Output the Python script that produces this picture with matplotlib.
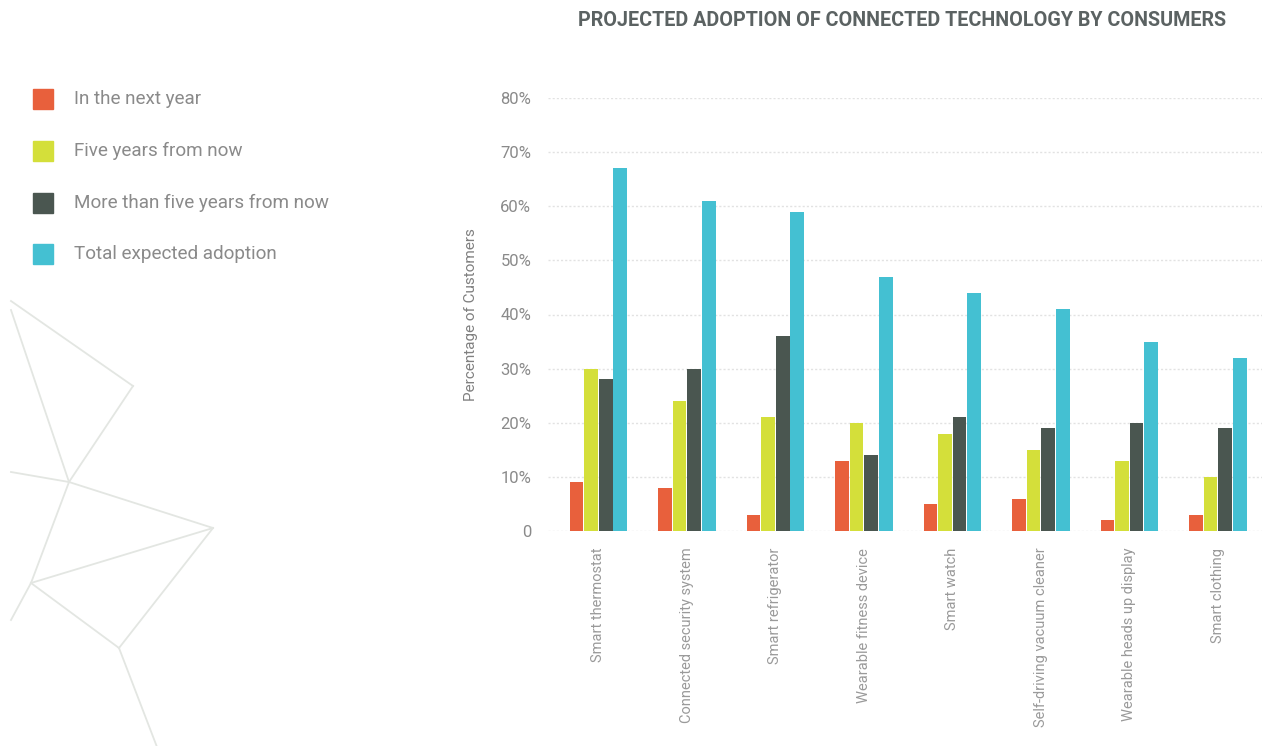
import numpy as np
import matplotlib
matplotlib.use("Agg")
import matplotlib.pyplot as plt
from matplotlib.lines import Line2D
from matplotlib.patches import Rectangle

plt.rcParams["font.family"] = ["Roboto", "DejaVu Sans"]

categories = [
    "Smart thermostat",
    "Connected security system",
    "Smart refrigerator",
    "Wearable fitness device",
    "Smart watch",
    "Self-driving vacuum cleaner",
    "Wearable heads up display",
    "Smart clothing",
]
next_year = [9, 8, 3, 13, 5, 6, 2, 3]
five_years = [30, 24, 21, 20, 18, 15, 13, 10]
beyond_five = [28, 30, 36, 14, 21, 19, 20, 19]
total = [67, 61, 59, 47, 44, 41, 35, 32]

series_labels = [
    "In the next year",
    "Five years from now",
    "More than five years from now",
    "Total expected adoption",
]
colors = ["#e8603c", "#d4df3a", "#4a5650", "#44c0d2"]
y_ticks = [0, 10, 20, 30, 40, 50, 60, 70, 80]

W, H = 1263, 746
fig = plt.figure(figsize=(W / 100, H / 100), dpi=100)

# background decoration: thin light polyline star on the left
pts = {
    "A": (11, 301), "B": (133, 386), "C": (69, 482), "D": (11, 310),
    "E": (11, 472), "F": (213, 528), "G": (31, 583), "H": (119, 648),
    "I": (11, 620), "J": (157, 747),
}
segs = ["AB", "BC", "DC", "EC", "CF", "CG", "GF", "GH", "FH", "HJ", "GI"]
for s in segs:
    (x0, y0), (x1, y1) = pts[s[0]], pts[s[1]]
    fig.add_artist(Line2D([x0 / W, x1 / W], [1 - y0 / H, 1 - y1 / H],
                          transform=fig.transFigure, color="#e3e6e2", lw=1.3))

ax = fig.add_axes([548 / W, 1 - 531 / H, (1262 - 548) / W, (531 - 98) / H])

x = np.arange(len(categories))
bw = 0.155
step = 0.165
for i, (vals, c) in enumerate(zip([next_year, five_years, beyond_five, total], colors)):
    ax.bar(x + (i - 1.5) * step, vals, width=bw, color=c, zorder=3)

ax.set_xlim(-0.57, len(categories) - 0.5)
ax.set_ylim(0, 80)
ax.set_yticks(y_ticks)
ax.set_yticklabels([f"{v}%" if v else "0" for v in y_ticks])
ax.yaxis.grid(True, color="#e2e2e2", linestyle=(0, (1.5, 1.5)), lw=1, zorder=0)
ax.set_xticks(x)
ax.set_xticklabels(categories, rotation=90, va="top", ha="center")
for sp in ax.spines.values():
    sp.set_visible(False)
ax.tick_params(axis="y", length=0, pad=12, labelsize=12, labelcolor="#8a8a8a")
ax.tick_params(axis="x", length=0, pad=12, labelsize=10.5, labelcolor="#9a9a9a")
ax.set_ylabel("Percentage of Customers", fontsize=11, color="#808080", labelpad=16)

fig.text(902 / W, 1 - 21 / H, "PROJECTED ADOPTION OF CONNECTED TECHNOLOGY BY CONSUMERS",
         ha="center", va="center", fontsize=14.2, fontweight="bold", color="#5b6262")

# legend drawn as squares and labels at the upper left
leg_y = [99, 151, 203, 254]
for yy, c, lab in zip(leg_y, colors, series_labels):
    fig.add_artist(Rectangle((33 / W, 1 - (yy + 10) / H), 20 / W, 20 / H,
                             transform=fig.transFigure, color=c))
    fig.text(74 / W, 1 - yy / H, lab, ha="left", va="center",
             fontsize=13.6, color="#8a8a8a")

fig.savefig("out.png", dpi=100, facecolor="white")
